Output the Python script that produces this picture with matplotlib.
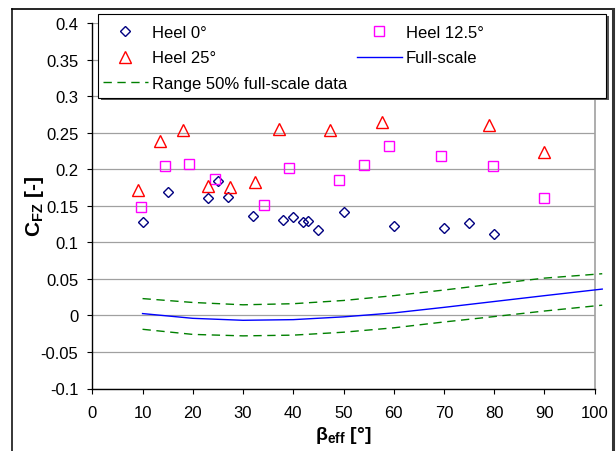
import numpy as np
import matplotlib
matplotlib.use("Agg")
import matplotlib.pyplot as plt
from matplotlib.patches import Rectangle
from matplotlib.lines import Line2D

plt.rcParams['font.family'] = ['Liberation Sans', 'DejaVu Sans']
plt.rcParams['mathtext.fontset'] = 'custom'
plt.rcParams['mathtext.rm'] = 'Liberation Sans'
plt.rcParams['mathtext.bf'] = 'Liberation Sans:bold'

# Measured force coefficient, three heel angles
beta_heel0 = [10, 15, 23, 25, 27, 32, 38, 40, 42, 43, 45, 50, 60, 70, 75, 80]
cfz_heel0 = [0.128, 0.169, 0.161, 0.184, 0.162, 0.136, 0.131, 0.134, 0.128,
             0.129, 0.117, 0.141, 0.122, 0.120, 0.126, 0.111]

beta_heel12 = [9.6, 14.5, 19.3, 24.4, 34.2, 39.2, 49.1, 54.1, 59.1, 69.5, 79.8, 89.9]
cfz_heel12 = [0.148, 0.205, 0.207, 0.187, 0.151, 0.202, 0.185, 0.206, 0.232,
              0.218, 0.204, 0.161]

beta_heel25 = [9.0, 13.5, 18.1, 23.0, 27.5, 32.4, 37.2, 47.3, 57.6, 79.0, 90.0]
cfz_heel25 = [0.171, 0.238, 0.253, 0.177, 0.176, 0.183, 0.255, 0.253, 0.265,
              0.260, 0.224]

# Full-scale fit and its 50% band
beta_fs = [10, 20, 30, 40, 50, 60, 70, 80, 90, 101.5]
cfz_fs = [0.0025, -0.004, -0.0067, -0.0058, -0.002, 0.0034, 0.011, 0.019, 0.027, 0.036]
cfz_fs_hi = [0.023, 0.0177, 0.0145, 0.016, 0.0204, 0.027, 0.0347, 0.043, 0.051, 0.057]
cfz_fs_lo = [-0.019, -0.026, -0.028, -0.027, -0.023, -0.017, -0.009, -0.0016, 0.006, 0.014]

yticks = [-0.1, -0.05, 0, 0.05, 0.1, 0.15, 0.2, 0.25, 0.3, 0.35, 0.4]
ytick_labels = ['-0.1', '-0.05', '0', '0.05', '0.1', '0.15', '0.2', '0.25',
                '0.3', '0.35', '0.4']
xticks = list(range(0, 101, 10))

W, H = 616, 452
fig = plt.figure(figsize=(W / 100, H / 100), dpi=100)


def fx(px):
    return px / W


def fy(py):
    return 1 - py / H


ax = fig.add_axes([fx(92.3), fy(389.5), fx(594.7) - fx(92.3), fy(24) - fy(389.5)])

l0, = ax.plot(beta_heel0, cfz_heel0, linestyle='none', marker='D', ms=5.6,
              mfc='none', mec='#000080', mew=1.0, label='Heel 0°', zorder=4)
l12, = ax.plot(beta_heel12, cfz_heel12, linestyle='none', marker='s', ms=7.4,
               mfc='none', mec='#ff00ff', mew=1.0, label='Heel 12.5°', zorder=4)
l25, = ax.plot(beta_heel25, cfz_heel25, linestyle='none', marker='^', ms=8,
               mfc='none', mec='#ff0000', mew=1.0, label='Heel 25°', zorder=4)
lfs, = ax.plot(beta_fs, cfz_fs, color='#0000ff', lw=1.0, clip_on=False,
               label='Full-scale', zorder=3)
lhi, = ax.plot(beta_fs, cfz_fs_hi, color='#008000', lw=1.0, dashes=(6, 4),
               clip_on=False, label='Range 50% full-scale data', zorder=3)
ax.plot(beta_fs, cfz_fs_lo, color='#008000', lw=1.0, dashes=(6, 4),
        clip_on=False, zorder=3)

ax.set_xlim(0, 100)
ax.set_ylim(-0.1, 0.4)
ax.set_xticks(xticks)
ax.set_yticks(yticks)
ax.set_yticklabels(ytick_labels)
ax.tick_params(axis='both', direction='out', length=3.6, width=0.8,
               labelsize=12, colors='black')
ax.tick_params(axis='x', pad=8)
ax.tick_params(axis='y', pad=6.5)

ax.set_axisbelow(True)
ax.yaxis.grid(True, color='#a0a0a0', lw=0.9)
ax.spines['top'].set_visible(False)
ax.spines['right'].set_color('#a0a0a0')
ax.spines['right'].set_linewidth(1.2)
ax.spines['left'].set_linewidth(1.0)
ax.spines['bottom'].set_linewidth(1.0)

ax.set_xlabel('β$_{\\mathbf{eff}}$ [°]', fontsize=14, fontweight='bold')
ax.set_ylabel('C$_{\\mathbf{FZ}}$ [-]', fontsize=15, fontweight='bold')
ax.xaxis.set_label_coords(0.5, -0.098)
ax.yaxis.set_label_coords(-0.092, 0.5)

# legend box with drop shadow, wider than its entries
fig.patches.append(Rectangle((fx(100.5), fy(101)), fx(508), fy(0) - fy(84),
                             transform=fig.transFigure, facecolor='#555555',
                             edgecolor='none', zorder=3))
fig.patches.append(Rectangle((fx(98.3), fy(99)), fx(508), fy(0) - fy(84),
                             transform=fig.transFigure, facecolor='white',
                             edgecolor='black', lw=0.8, zorder=3))
fig.legend(handles=[l0, l25, lhi, l12, lfs], ncol=2, loc='upper left',
           bbox_to_anchor=(fx(103), fy(26)), frameon=False, fontsize=12,
           borderpad=0, borderaxespad=0, handlelength=2.7, handletextpad=0.25,
           columnspacing=0.55, labelspacing=0.62)

# outer chart border
fig.lines.append(Line2D([fx(12), fx(12)], [fy(9.5), fy(460)], color='black',
                        lw=1.1, transform=fig.transFigure))
fig.lines.append(Line2D([fx(12), fx(612.5)], [fy(9.5), fy(9.5)], color='black',
                        lw=1.2, transform=fig.transFigure))
fig.lines.append(Line2D([fx(612.5), fx(612.5)], [fy(9.5), fy(460)], color='#333333',
                        lw=2.2, transform=fig.transFigure))

fig.savefig('out.png', dpi=100)
